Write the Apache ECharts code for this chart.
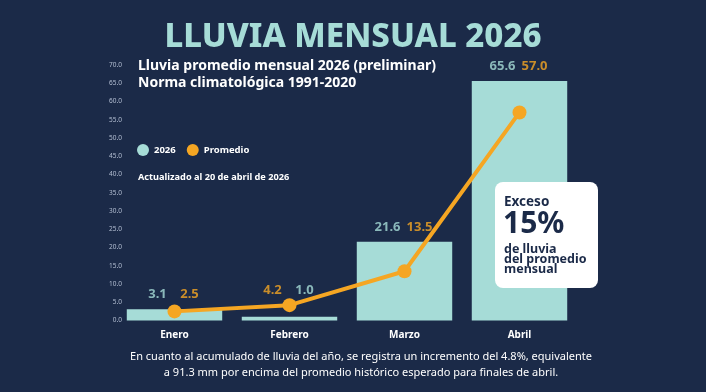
<!DOCTYPE html>
<html>
<head>
<meta charset="utf-8">
<script src="https://cdn.jsdelivr.net/npm/echarts@6/dist/echarts.min.js"></script>
<style>
html,body{margin:0;padding:0;background:#1b2a48;}
#c{width:706px;height:392px;}
</style>
</head>
<body>
<div id="c"></div>
<script>
const categories = ['Enero', 'Febrero', 'Marzo', 'Abril'];
const lluvia2026 = [3.1, 1.0, 21.6, 65.6];
const promedio = [2.5, 4.2, 13.5, 57.0];
const yMin = 0, yMax = 70, yStep = 5;

const TEAL = '#a6dcd7';
const ORANGE = '#f5a623';
const BG = '#1b2a48';
const FONT = 'Noto Sans';

const labelBase = categories.map((c, i) => Math.max(lluvia2026[i], promedio[i]));

function labelSeries(name, values, color, leftFirst) {
  return {
    name: name + '_lbl',
    type: 'scatter',
    symbolSize: 0,
    silent: true,
    z: 10,
    data: labelBase.map((v, i) => {
      const isLeft = (i === 1) ? !leftFirst : leftFirst;
      return {
        value: v,
        label: {
          show: true,
          position: 'top',
          distance: 8,
          offset: [isLeft ? -17 : 15, 0],
          formatter: values[i].toFixed(1),
          color: color,
          fontFamily: FONT,
          fontWeight: 'bold',
          fontSize: 13
        }
      };
    })
  };
}

const chart = echarts.init(document.getElementById('c'), null, {renderer: 'canvas'});
chart.setOption({
  backgroundColor: BG,
  animation: false,
  title: [
    {
      text: 'LLUVIA MENSUAL 2026',
      left: 'center', top: 21, padding: 0,
      textStyle: {color: TEAL, fontFamily: FONT, fontWeight: 800, fontSize: 33}
    },
    {
      text: 'Lluvia promedio mensual 2026 (preliminar)\nNorma climatológica 1991-2020',
      left: 138, top: 58, padding: 0,
      textStyle: {color: '#ffffff', fontFamily: FONT, fontWeight: 'bold', fontSize: 14, lineHeight: 17}
    },
    {
      text: 'Actualizado al 20 de abril de 2026',
      left: 138, top: 173, padding: 0,
      textStyle: {color: '#ffffff', fontFamily: FONT, fontWeight: 'bold', fontSize: 9.2}
    }
  ],
  legend: {
    data: ['2026', 'Promedio'],
    left: 137, top: 144, padding: 0,
    icon: 'circle',
    itemWidth: 12, itemHeight: 12, itemGap: 11,
    textStyle: {color: '#ffffff', fontFamily: FONT, fontWeight: 'bold', fontSize: 9.5}
  },
  grid: {left: 117, right: 129, top: 65, bottom: 71.5},
  xAxis: {
    type: 'category',
    data: categories,
    axisLine: {show: false},
    axisTick: {show: false},
    axisLabel: {color: '#ffffff', fontFamily: FONT, fontWeight: 'bold', fontSize: 10, margin: 10}
  },
  yAxis: {
    type: 'value',
    min: yMin, max: yMax, interval: yStep,
    splitLine: {show: false},
    axisLine: {show: false},
    axisTick: {show: false},
    axisLabel: {color: '#b4bfd3', fontFamily: FONT, fontSize: 6.5, margin: -5, formatter: v => v.toFixed(1)}
  },
  series: [
    {
      name: '2026',
      type: 'bar',
      data: lluvia2026,
      barWidth: '83%',
      itemStyle: {color: TEAL},
      z: 2
    },
    {
      name: 'Promedio',
      type: 'line',
      data: promedio,
      symbol: 'circle',
      symbolSize: 14,
      lineStyle: {color: ORANGE, width: 4},
      itemStyle: {color: ORANGE},
      z: 5
    },
    labelSeries('2026', lluvia2026, TEAL, true),
    labelSeries('Promedio', promedio, ORANGE, false)
  ],
  graphic: [
    {type: 'rect', z: 100, shape: {x: 495, y: 182, width: 103, height: 106, r: 8}, style: {fill: '#ffffff'}},
    {type: 'text', z: 101, x: 504, y: 202, style: {text: 'Exceso', fill: BG, font: 'bold 13.5px "Noto Sans"', textVerticalAlign: 'middle'}},
    {type: 'text', z: 101, x: 503, y: 224, style: {text: '15%', fill: BG, font: 'bold 30px "Noto Sans"', textVerticalAlign: 'middle'}},
    {type: 'text', z: 101, x: 504, y: 249, style: {text: 'de lluvia', fill: BG, font: 'bold 12.5px "Noto Sans"', textVerticalAlign: 'middle'}},
    {type: 'text', z: 101, x: 504, y: 259, style: {text: 'del promedio', fill: BG, font: 'bold 12.5px "Noto Sans"', textVerticalAlign: 'middle'}},
    {type: 'text', z: 101, x: 504, y: 269.5, style: {text: 'mensual', fill: BG, font: 'bold 12.5px "Noto Sans"', textVerticalAlign: 'middle'}},
    {type: 'text', z: 101, x: 361, y: 357, style: {text: 'En cuanto al acumulado de lluvia del año, se registra un incremento del 4.8%, equivalente', fill: '#ffffff', font: '11px "Noto Sans"', textAlign: 'center', textVerticalAlign: 'middle'}},
    {type: 'text', z: 101, x: 361, y: 373, style: {text: 'a 91.3 mm por encima del promedio histórico esperado para finales de abril.', fill: '#ffffff', font: '11px "Noto Sans"', textAlign: 'center', textVerticalAlign: 'middle'}}
  ]
});
</script>
</body>
</html>
